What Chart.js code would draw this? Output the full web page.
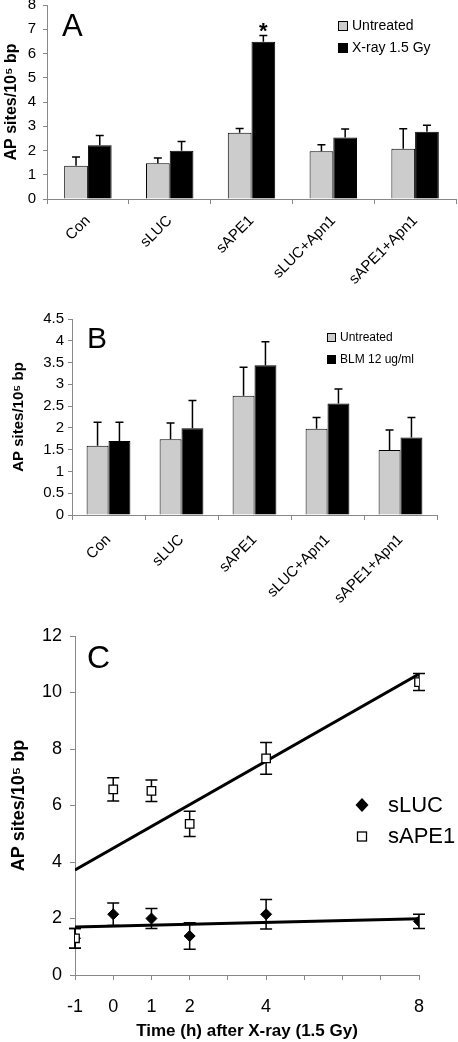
<!DOCTYPE html>
<html><head><meta charset="utf-8">
<script src="https://cdn.jsdelivr.net/npm/chart.js@4.4.1/dist/chart.umd.min.js"></script>
<style>
html,body{margin:0;padding:0;background:#fff;width:458px;height:1042px;overflow:hidden}
canvas{position:absolute;left:0;display:block}
</style></head><body>
<canvas id="cA" width="458" height="295" style="top:0px"></canvas>
<canvas id="cB" width="458" height="325" style="top:300px"></canvas>
<canvas id="cC" width="458" height="417" style="top:625px"></canvas>
<script>
// ---------- DATA ----------
const groups = ['Con', 'sLUC', 'sAPE1', 'sLUC+Apn1', 'sAPE1+Apn1'];

// Panel A
const untreatedA = [1.37, 1.47, 2.73, 1.97, 2.07];
const untreatedErrA = [0.36, 0.22, 0.18, 0.27, 0.83];
const xrayA = [2.22, 1.99, 6.48, 2.54, 2.77];
const xrayErrA = [0.40, 0.38, 0.26, 0.35, 0.27];

// Panel B
const untreatedB = [1.59, 1.74, 2.74, 1.98, 1.49];
const untreatedErrB = [0.54, 0.37, 0.65, 0.26, 0.46];
const blmB = [1.70, 1.99, 3.44, 2.56, 1.78];
const blmErrB = [0.43, 0.64, 0.54, 0.33, 0.46];

// Panel C
const timeC = [-1, 0, 1, 2, 4, 8];
const sLUC = [1.30, 2.15, 2.00, 1.38, 2.15, 1.90];
const sLUCErr = [0.35, 0.40, 0.35, 0.47, 0.52, 0.25];
const sAPE1 = [1.30, 6.57, 6.52, 5.35, 7.67, 10.37];
const sAPE1Err = [0.35, 0.41, 0.38, 0.45, 0.56, 0.30];
const fitX = [-1, 8];
const sLUCFit = [1.70, 1.99];
const sAPE1Fit = [3.72, 10.65];
const xTickLabelsC = [-1, 0, 1, 2, 4, 8];

// ---------- STYLE ----------
const FONT = "'Liberation Sans', Arial, Helvetica, sans-serif";
Chart.defaults.font.family = FONT;
Chart.defaults.color = '#000';
const AXIS = '#888';

const noPadX = s => { s.paddingLeft = 0; s.paddingRight = 0; };
const noPadY = s => { s.paddingTop = 0; s.paddingBottom = 0; };

const errorBars = {
  id: 'errorBars',
  draw(chart, opts) {
    const ctx = chart.ctx, ys = chart.scales.y;
    ctx.save();
    ctx.strokeStyle = '#000';
    ctx.lineWidth = opts.width || 1.5;
    chart.data.datasets.forEach((ds, i) => {
      if (!ds.errors) return;
      const meta = chart.getDatasetMeta(i);
      meta.data.forEach((el, j) => {
        const raw = ds.data[j];
        const v = typeof raw === 'object' ? raw.y : raw;
        const e = ds.errors[j];
        const x = el.x;
        const yTop = ys.getPixelForValue(v + e);
        const yBot = opts.both ? ys.getPixelForValue(v - e) : ys.getPixelForValue(v);
        const h = (opts.cap || 8) / 2;
        ctx.beginPath();
        ctx.moveTo(x, yBot); ctx.lineTo(x, yTop);
        ctx.moveTo(x - h, yTop); ctx.lineTo(x + h, yTop);
        if (opts.both) { ctx.moveTo(x - h, yBot); ctx.lineTo(x + h, yBot); }
        ctx.stroke();
      });
    });
    ctx.restore();
  },
  beforeDatasetsDraw(chart, args, opts) { if (opts.before) this.draw(chart, opts); },
  afterDatasetsDraw(chart, args, opts) { if (!opts.before) this.draw(chart, opts); }
};

function box(ctx, x, y, s, fill) {
  ctx.fillStyle = fill; ctx.fillRect(x, y, s, s);
  ctx.strokeStyle = '#000'; ctx.lineWidth = 1; ctx.strokeRect(x + 0.5, y + 0.5, s - 1, s - 1);
}

function barChart(id, labels, d1, e1, d2, e2, name2, ymax, step, cfg) {
  return new Chart(document.getElementById(id), {
    type: 'bar',
    data: {
      labels: labels,
      datasets: [
        { label: 'Untreated', data: d1, errors: e1, backgroundColor: '#cccccc', borderColor: '#000', borderWidth: 1 },
        { label: name2, data: d2, errors: e2, backgroundColor: '#000', borderColor: '#000', borderWidth: 1 }
      ]
    },
    options: {
      responsive: false, animation: false,
      layout: { padding: { top: cfg.top, right: cfg.right, left: 0, bottom: 0 } },
      datasets: { bar: { categoryPercentage: cfg.catPct, barPercentage: 1 } },
      plugins: { legend: { display: false }, tooltip: { enabled: false },
        errorBars: { cap: 8, width: 1.5 } },
      scales: {
        x: {
          grid: { drawOnChartArea: false, tickLength: 5, color: AXIS, offset: true },
          border: { color: AXIS },
          ticks: { minRotation: 45, maxRotation: 45, autoSkip: false, font: { size: cfg.xFont }, color: '#000', padding: cfg.xPad },
          afterFit: s => { s.height = cfg.xH; noPadX(s); }
        },
        y: {
          min: 0, max: ymax,
          grid: { drawOnChartArea: false, tickLength: 4, color: AXIS },
          border: { color: AXIS },
          ticks: { stepSize: step, font: { size: cfg.yFont }, color: '#000', padding: cfg.yPad,
            callback: v => String(Math.round(v * 10) / 10) },
          title: { display: true, text: 'AP sites/10⁵ bp', font: { size: cfg.titleFont, weight: 'bold' }, padding: { top: cfg.titlePad, bottom: 0 } },
          afterFit: s => { s.width = cfg.yW; noPadY(s); }
        }
      }
    },
    plugins: [errorBars, { id: 'decor', afterDraw: cfg.decor }]
  });
}

// Panel A
barChart('cA', groups, untreatedA, untreatedErrA, xrayA, xrayErrA, 'X-ray 1.5 Gy', 8, 1, {
  top: 5, right: 2, catPct: 0.58, xFont: 15, xPad: 8, xH: 96, yFont: 15, yPad: 7, yW: 47, titleFont: 16, titlePad: 2,
  decor(chart) {
    const ctx = chart.ctx;
    ctx.save();
    ctx.fillStyle = '#000';
    ctx.font = '31px ' + FONT; ctx.textBaseline = 'alphabetic'; ctx.textAlign = 'left';
    ctx.fillText('A', 62, 36);
    box(ctx, 338, 21, 10, '#cccccc');
    box(ctx, 338, 43, 10, '#000');
    ctx.fillStyle = '#000';
    ctx.font = '14px ' + FONT; ctx.textBaseline = 'middle';
    ctx.fillText('Untreated', 352, 26.5);
    ctx.fillText('X-ray 1.5 Gy', 352, 48.5);
    const el = chart.getDatasetMeta(1).data[2];
    const yCap = chart.scales.y.getPixelForValue(xrayA[2] + xrayErrA[2]);
    ctx.font = 'bold 22px ' + FONT; ctx.textAlign = 'center'; ctx.textBaseline = 'alphabetic';
    ctx.fillText('*', el.x, yCap + 2);
    ctx.restore();
  }
});

// Panel B
barChart('cB', groups, untreatedB, untreatedErrB, blmB, blmErrB, 'BLM 12 ug/ml', 4.5, 0.5, {
  top: 19, right: 21, catPct: 0.6, xFont: 15, xPad: 11, xH: 110, yFont: 15, yPad: 4, yW: 72, titleFont: 15, titlePad: 10,
  decor(chart) {
    const ctx = chart.ctx;
    ctx.save();
    ctx.fillStyle = '#000';
    ctx.font = '30px ' + FONT; ctx.textBaseline = 'alphabetic'; ctx.textAlign = 'left';
    ctx.fillText('B', 87, 48);
    box(ctx, 327, 33, 9, '#cccccc');
    box(ctx, 327, 55, 9, '#000');
    ctx.fillStyle = '#000';
    ctx.font = '12px ' + FONT; ctx.textBaseline = 'middle';
    ctx.fillText('Untreated', 340, 38);
    ctx.fillText('BLM 12 ug/ml', 340, 60);
    ctx.restore();
  }
});

// Panel C
new Chart(document.getElementById('cC'), {
  type: 'scatter',
  data: {
    datasets: [
      { label: 'sAPE1', data: timeC.map((t, i) => ({ x: t, y: sAPE1[i] })), errors: sAPE1Err,
        pointStyle: 'rect', pointRadius: 6, backgroundColor: '#fff', borderColor: '#000', borderWidth: 1.3, order: 0 },
      { label: 'sLUC', data: timeC.map((t, i) => ({ x: t, y: sLUC[i] })), errors: sLUCErr,
        pointStyle: 'rectRot', pointRadius: 5.5, backgroundColor: '#000', borderColor: '#000', borderWidth: 1, order: 1 },
      { label: 'sAPE1 trend', type: 'line', data: fitX.map((t, i) => ({ x: t, y: sAPE1Fit[i] })),
        borderColor: '#000', borderWidth: 3, pointRadius: 0, fill: false, order: 2 },
      { label: 'sLUC trend', type: 'line', data: fitX.map((t, i) => ({ x: t, y: sLUCFit[i] })),
        borderColor: '#000', borderWidth: 3, pointRadius: 0, fill: false, order: 2 }
    ]
  },
  options: {
    responsive: false, animation: false,
    layout: { padding: { top: 11, right: 39, left: 0, bottom: 0 } },
    plugins: { legend: { display: false }, tooltip: { enabled: false },
      errorBars: { cap: 12, width: 1.5, both: true, before: true } },
    scales: {
      x: {
        type: 'linear', min: -1, max: 8,
        grid: { drawOnChartArea: false, tickLength: 5, color: AXIS },
        border: { color: AXIS },
        ticks: { stepSize: 1, autoSkip: false, maxRotation: 0, font: { size: 18 }, color: '#000', padding: 16,
          callback: v => xTickLabelsC.includes(v) ? String(v) : '' },
        title: { display: true, text: 'Time (h) after X-ray (1.5 Gy)', font: { size: 17, weight: 'bold' }, padding: { top: 0, bottom: 0 } },
        afterFit: s => { s.height = 67; noPadX(s); }
      },
      y: {
        min: 0, max: 12,
        grid: { drawOnChartArea: false, tickLength: 5, color: AXIS },
        border: { color: AXIS },
        ticks: { stepSize: 2, font: { size: 18 }, color: '#000', padding: 8 },
        title: { display: true, text: 'AP sites/10⁵ bp', font: { size: 18, weight: 'bold' }, padding: { top: 8, bottom: 0 } },
        afterFit: s => { s.width = 75; noPadY(s); }
      }
    }
  },
  plugins: [errorBars, { id: 'decor', afterDraw(chart) {
    const ctx = chart.ctx;
    ctx.save();
    ctx.fillStyle = '#000';
    ctx.font = '32px ' + FONT; ctx.textBaseline = 'alphabetic'; ctx.textAlign = 'left';
    ctx.fillText('C', 87, 43);
    ctx.beginPath();
    ctx.moveTo(362, 173); ctx.lineTo(368.5, 180); ctx.lineTo(362, 187); ctx.lineTo(355.5, 180); ctx.closePath();
    ctx.fill();
    ctx.strokeStyle = '#000'; ctx.lineWidth = 1.3;
    ctx.fillStyle = '#fff'; ctx.fillRect(357.5, 207, 9, 9); ctx.strokeRect(357.5, 207, 9, 9);
    ctx.fillStyle = '#000';
    ctx.font = '22px ' + FONT; ctx.textBaseline = 'middle';
    ctx.fillText('sLUC', 388, 181);
    ctx.fillText('sAPE1', 388, 212);
    ctx.restore();
  } }]
});
</script>
</body></html>
